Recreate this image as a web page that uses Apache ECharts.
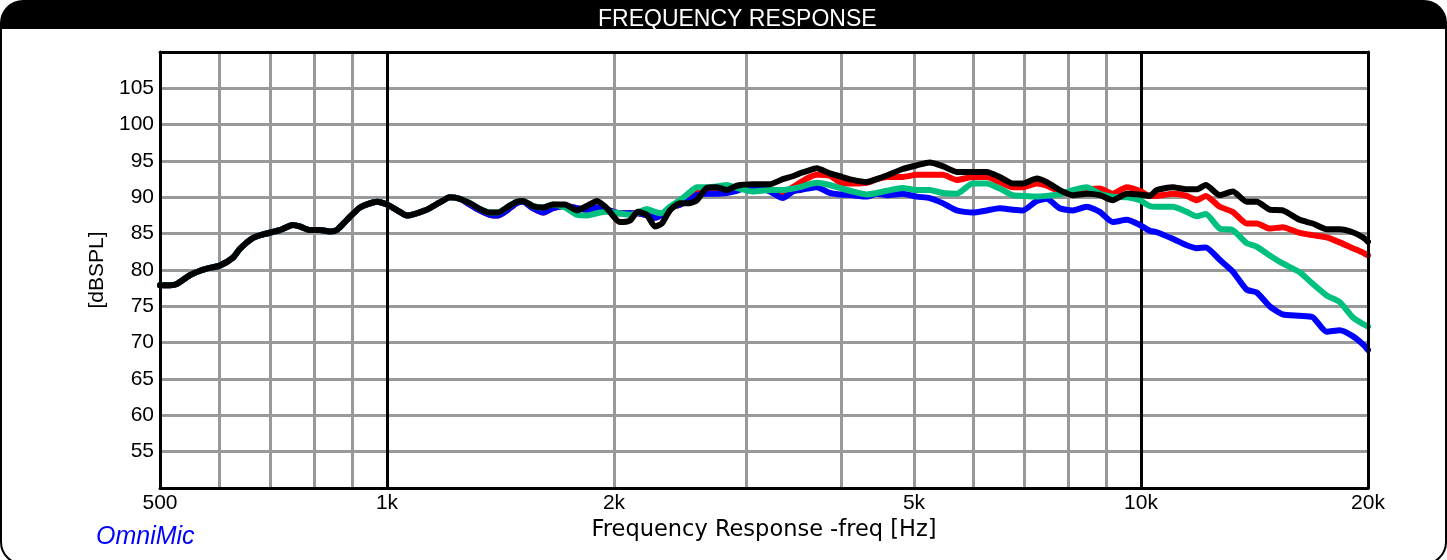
<!DOCTYPE html>
<html>
<head>
<meta charset="utf-8">
<script src="https://cdn.jsdelivr.net/npm/echarts@6/dist/echarts.min.js"></script>
<style>
  html, body { margin: 0; padding: 0; background: #fff; }
  #chart { width: 1447px; height: 560px; }
</style>
</head>
<body>
<div id="chart"></div>
<script>
// ---- data ----
const freqs = [
  500,516,527,548,565,577,600,625,638,664,685,721,750,766,790,815,840,858,885,921,970,1000,
  1040,1062,1129,1175,1212,1249,1288,1328,1369,1403,1447,1486,1515,1561,1610,1660,1722,1786,1841,1898,1957,
  2036,2099,2151,2211,2266,2315,2372,2446,2521,2576,2656,2738,2823,2910,
  3056,3219,3349,3453,3527,3604,3715,3865,3985,
  4146,4328,4462,4600,4830,
  5041,5245,5457,5696,5981,6242,6496,6759,6968,7273,7498,7802,8118,8472,8816,9173,9574,9962,
  10270,10492,11018,11499,11855,12185,12717,13232,13810,14239,14815,15415,16236,16893,17630,18344,19086,19678,20000
];
const blackSPL = [
  77.9,77.9,78.1,79.3,79.9,80.2,80.6,81.7,82.9,84.4,84.9,85.5,86.2,86.0,85.5,85.5,85.3,85.5,86.9,88.6,89.4,89.0,
  88.0,87.5,88.3,89.3,90.0,89.8,89.2,88.4,87.9,87.9,88.7,89.4,89.5,88.8,88.6,89.0,89.0,88.2,88.8,89.5,88.5,
  86.6,86.8,88.0,87.6,86.0,86.4,88.2,89.2,89.2,89.6,91.3,91.4,91.0,91.6,
  91.8,91.8,92.5,92.9,93.3,93.6,94.0,93.3,92.9,
  92.4,92.1,92.5,93.0,93.9,
  94.4,94.8,94.3,93.5,93.5,93.5,92.8,91.9,91.9,92.6,92.1,91.0,90.3,90.5,90.3,89.6,90.5,90.4,
  90.2,91.0,91.4,91.1,91.1,91.7,90.3,90.8,89.4,89.4,88.3,88.2,86.9,86.4,85.6,85.6,85.2,84.5,83.9
];
const blueSPL = [
  77.9,77.9,78.1,79.3,79.9,80.2,80.6,81.7,82.9,84.4,84.9,85.5,86.2,86.0,85.5,85.5,85.3,85.5,86.9,88.6,89.4,89.0,
  88.0,87.5,88.3,89.3,90.0,89.8,89.0,88.2,87.6,87.5,88.3,89.2,89.4,88.5,87.9,88.5,88.8,88.5,88.3,88.6,88.3,
  87.8,87.8,87.8,87.5,87.2,87.6,88.6,89.0,89.6,90.3,90.5,90.5,90.6,90.9,
  91.6,90.8,89.9,90.8,91.0,91.2,91.4,90.6,90.4,
  90.3,90.1,90.5,90.3,90.5,
  90.1,89.9,89.2,88.2,87.9,88.2,88.5,88.3,88.2,89.5,89.8,88.5,88.2,88.7,88.0,86.6,86.9,86.2,
  85.4,85.2,84.3,83.4,83.0,83.1,81.4,79.8,77.3,76.9,75.0,73.9,73.7,73.5,71.5,71.7,70.9,69.8,69.0
];
const greenSPL = [
  77.9,77.9,78.1,79.3,79.9,80.2,80.6,81.7,82.9,84.4,84.9,85.5,86.2,86.0,85.5,85.5,85.3,85.5,86.9,88.6,89.4,89.0,
  88.0,87.5,88.3,89.3,90.0,89.8,89.2,88.4,87.9,87.9,88.7,89.4,89.5,88.8,88.6,89.0,88.6,87.6,87.5,87.8,88.0,
  87.8,87.6,87.9,88.4,88.0,87.8,88.7,89.6,90.7,91.4,91.4,91.5,91.7,91.3,
  90.8,91.0,91.0,91.2,91.4,91.7,92.0,91.7,91.3,
  90.8,90.4,90.6,90.9,91.3,
  91.0,91.0,90.6,90.5,91.9,91.9,91.2,90.3,90.2,90.1,90.2,90.4,91.0,91.4,90.5,90.1,90.0,89.6,
  88.8,88.7,88.7,88.0,87.4,87.7,85.7,85.5,83.7,83.2,82.0,80.9,79.7,78.1,76.5,75.6,73.5,72.6,72.2
];
const redSPL = [
  77.9,77.9,78.1,79.3,79.9,80.2,80.6,81.7,82.9,84.4,84.9,85.5,86.2,86.0,85.5,85.5,85.3,85.5,86.9,88.6,89.4,89.0,
  88.0,87.5,88.3,89.3,90.0,89.8,89.0,88.2,87.6,87.5,88.3,89.2,89.4,88.5,87.9,88.5,88.8,88.5,88.3,88.6,88.3,
  87.8,87.8,87.8,87.5,87.2,87.6,88.6,89.0,90.3,90.8,91.0,91.2,91.4,91.4,
  91.2,91.0,90.6,91.4,92.0,92.6,93.1,93.0,92.1,
  91.9,92.0,92.5,92.8,92.8,
  93.1,93.1,93.1,92.4,92.8,92.8,92.1,91.4,91.4,91.9,91.6,90.8,90.6,91.0,91.2,90.5,91.4,90.9,
  90.2,90.2,90.5,90.2,89.6,90.2,88.7,88.0,86.4,86.4,85.7,85.9,85.1,84.8,84.5,83.8,83.0,82.4,82.0
];
const xTickValues = [500, 1000, 2000, 5000, 10000, 20000];
const xTickLabels = ['500', '1k', '2k', '5k', '10k', '20k'];
const gridFreqs = [600, 700, 800, 900, 1000, 2000, 3000, 4000, 5000, 6000, 7000, 8000, 9000, 10000];
const majorFreqs = [1000, 10000];
const yMin = 50, yMax = 110, yStep = 5;

const titleText = 'FREQUENCY RESPONSE';
const xName = 'Frequency Response -freq [Hz]';
const yName = '[dBSPL]';
const brandText = 'OmniMic';

// ---- chart ----
const pairs = arr => freqs.map((f, i) => [f, arr[i]]);
const chart = echarts.init(document.getElementById('chart'), null, { renderer: 'canvas' });
const FONT = 'Liberation Sans, Arial, sans-serif';

const gridLineItems = gridFreqs.map(f => ({
  xAxis: f,
  lineStyle: { color: majorFreqs.includes(f) ? '#000' : '#999', width: 3, type: 'solid' },
  label: { show: false }
}));
const labelItems = xTickValues.map((f, i) => ({
  xAxis: f,
  lineStyle: { color: 'rgba(0,0,0,0)', width: 1, type: 'solid' },
  label: {
    show: true, position: 'start', formatter: xTickLabels[i], distance: 5,
    color: '#000', fontSize: 21, fontFamily: FONT
  }
}));

const lineSeries = (name, color, data) => ({
  name, type: 'line', data: pairs(data), showSymbol: false, smooth: 0.2,
  lineStyle: { color, width: 6, cap: 'round', join: 'round' },
  itemStyle: { color }, xAxisIndex: 0, yAxisIndex: 0, animation: false, silent: true
});

const borderAxis = {
  axisLine: { show: true, onZero: false, lineStyle: { color: '#000', width: 3 } },
  axisTick: { show: false }, axisLabel: { show: false }, splitLine: { show: false }
};

chart.setOption({
  animation: false,
  backgroundColor: '#fff',
  title: {
    text: titleText, left: 593, top: 3,
    textStyle: { color: '#fff', fontSize: 23, fontWeight: 'normal', fontFamily: FONT }
  },
  grid: { left: 160, right: 79, top: 52, bottom: 72, containLabel: false },
  xAxis: [
    Object.assign({
      type: 'log', logBase: 10, min: 500, max: 20000, position: 'bottom', z: 4,
      name: xName, nameLocation: 'middle', nameGap: 31,
      nameTextStyle: { color: '#000', fontSize: 22.5, fontFamily: 'DejaVu Sans, sans-serif' }
    }, borderAxis),
    Object.assign({ type: 'log', logBase: 10, min: 500, max: 20000, position: 'top', z: 4 }, borderAxis)
  ],
  yAxis: [
    {
      type: 'value', min: yMin, max: yMax, interval: yStep, position: 'left', z: 0,
      name: yName, nameLocation: 'middle', nameGap: 48, nameRotate: 90,
      nameTextStyle: { color: '#000', fontSize: 21, fontFamily: FONT },
      axisLine: { show: false }, axisTick: { show: false },
      axisLabel: {
        color: '#000', fontSize: 21, fontFamily: FONT, margin: 6,
        formatter: v => (v === yMin || v === yMax) ? '' : String(v)
      },
      splitLine: { show: true, lineStyle: { color: '#999', width: 3 } }
    },
    Object.assign({ type: 'value', min: yMin, max: yMax, interval: yStep, position: 'right', z: 4 }, borderAxis),
    Object.assign({ type: 'value', min: yMin, max: yMax, interval: yStep, position: 'left', z: 4 }, borderAxis)
  ],
  graphic: [
    {
      type: 'rect', z: -1, silent: true,
      shape: { x: 1, y: 1, width: 1445, height: 563, r: 22 },
      style: { fill: 'none', stroke: '#000', lineWidth: 2 }
    },
    {
      type: 'rect', z: -1, silent: true,
      shape: { x: 1, y: 1, width: 1445, height: 28, r: [22, 22, 0, 0] },
      style: { fill: '#000' }
    },
    {
      type: 'text', left: 96, top: 525, silent: true,
      style: { text: brandText, fill: '#0000ff', font: 'italic 25px ' + FONT }
    }
  ],
  series: [
    {
      name: 'grid', type: 'line', data: [], xAxisIndex: 0, yAxisIndex: 0, silent: true,
      markLine: {
        silent: true, symbol: ['none', 'none'], z: 1, animation: false,
        data: gridLineItems.concat(labelItems)
      }
    },
    lineSeries('red', '#ff0000', redSPL),
    lineSeries('blue', '#0000ff', blueSPL),
    lineSeries('green', '#00c080', greenSPL),
    lineSeries('black', '#000000', blackSPL)
  ]
});
</script>
</body>
</html>
